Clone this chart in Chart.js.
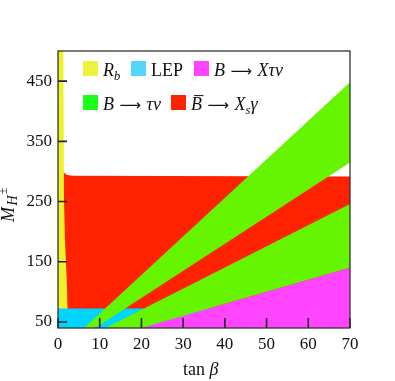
<!DOCTYPE html>
<html><head><meta charset="utf-8">
<script src="https://cdn.jsdelivr.net/npm/chart.js@4.4.1/dist/chart.umd.min.js"></script>
<style>html,body{margin:0;padding:0;background:#fff}canvas{display:block}</style>
</head><body>
<canvas id="c" width="395" height="381"></canvas>
<script>
// ---- axes ----
const xTicks = [0, 10, 20, 30, 40, 50, 60, 70];
const yTicks = [50, 150, 250, 350, 450];
const xRange = [0, 70];
const yRange = [40, 500];

// ---- excluded regions: boundary vertices (tan beta, M_H+-) ----
const rbTanB  = [0, 0, 1.27, 1.35, 1.44, 1.7, 2.09, 2.28, 2.5];
const rbMH    = [40, 500, 500, 400, 253, 180, 120, 75, 40];
const lepTanB = [0, 0, 70, 70];
const lepMH   = [40, 72.5, 72.5, 40];
const bsgTanB = [0, 0, 1.3, 1.6, 2.2, 3.5, 70, 70];
const bsgMH   = [40, 300, 300, 297, 294, 293, 291.5, 40];
const btnATanB = [6.25, 70, 70, 8.9];
const btnAMH   = [40, 448, 315, 40];
const btnBTanB = [11.4, 70, 70, 20];
const btnBMH   = [40, 246, 140, 40];
const bxtnTanB = [20, 70, 70];
const bxtnMH   = [40, 140, 40];

const regionColors = { rb: '#eef22a', lep: '#00d4ff', bxtn: '#ff44ff', btn: '#66f500', bsg: '#ff2200' };
const legendColors = ['#eef23c', '#55d6f8', '#ff44ff', '#1aff1a', '#ff2200'];
const legendLabels = ['R_b', 'LEP', 'B → Xτν', 'B → τν', 'B̄ → X_sγ'];
const ARROW = {t:'⟶', font:'"DejaVu Sans", sans-serif', size:15, pre:5.5, gap:5.5, dy:-0.5};
const legendSegs = [
  [{t:'R',it:1},{t:'b',it:1,sub:1}],
  [{t:'LEP'}],
  [{t:'B',it:1},ARROW,{t:'Xτν',it:1}],
  [{t:'B',it:1},ARROW,{t:'τν',it:1}],
  [{t:'B',it:1,bar:1},ARROW,{t:'X',it:1},{t:'s',it:1,sub:1},{t:'γ',it:1}]
];

const pts = (xs, ys) => xs.map((x, i) => ({x, y: ys[i]}));
const FONT = '"Liberation Serif", "DejaVu Serif", serif';

function region(label, xs, ys, color, order) {
  return { label, data: pts(xs, ys), backgroundColor: color, borderColor: color,
    borderWidth: 0, pointRadius: 0, fill: 'shape', showLine: true, tension: 0, order };
}

function drawRich(ctx, segs, x, y, size) {
  ctx.textBaseline = 'alphabetic';
  ctx.textAlign = 'left';
  for (const s of segs) {
    const fs = s.size ? s.size : (s.sub || s.sup) ? size * (s.scale || 0.7) : size;
    ctx.font = (s.it ? 'italic ' : '') + fs + 'px ' + (s.font || FONT);
    const dy = s.sub ? size * (s.dy || 0.22) : s.sup ? -size * 0.35 : (s.dy || 0);
    x += (s.pre || 0);
    ctx.fillText(s.t, x, y + dy);
    const w = ctx.measureText(s.t).width;
    if (s.bar) {
      ctx.save(); ctx.lineWidth = 1; ctx.strokeStyle = ctx.fillStyle;
      ctx.beginPath(); ctx.moveTo(x + 3, y - size * 0.8); ctx.lineTo(x + w + 1.5, y - size * 0.8); ctx.stroke();
      ctx.restore();
    }
    x += w + (s.gap || 0);
  }
}

const overlay = {
  id: 'overlay',
  afterDatasetsDraw(chart) {
    const {ctx, chartArea: a, scales: {x, y}} = chart;
    ctx.save();
    ctx.strokeStyle = '#222';
    ctx.lineWidth = 1.6;
    ctx.beginPath();
    for (const v of yTicks) { const p = y.getPixelForValue(v); ctx.moveTo(a.left, p); ctx.lineTo(a.left + 9, p); }
    for (const v of xTicks) { const p = x.getPixelForValue(v); ctx.moveTo(p, a.bottom); ctx.lineTo(p, a.bottom - 10); }
    ctx.stroke();
    ctx.lineWidth = 1.3;
    ctx.strokeStyle = '#333';
    ctx.strokeRect(a.left, a.top, a.right - a.left, a.bottom - a.top);
    ctx.restore();
  },
  afterDraw(chart) {
    const {ctx, chartArea: a} = chart;
    ctx.save();
    // legend
    const boxX = [a.left + 25, a.left + 73, a.left + 136, a.left + 25, a.left + 113];
    const rowY = [a.top + 10, a.top + 10, a.top + 10, a.top + 44, a.top + 44];
    for (let i = 0; i < legendSegs.length; i++) {
      ctx.fillStyle = legendColors[i];
      ctx.fillRect(boxX[i], rowY[i], 15, 15);
      ctx.fillStyle = '#111';
      drawRich(ctx, legendSegs[i], boxX[i] + 20, rowY[i] + 15, 18);
    }
    // x title
    ctx.fillStyle = '#111';
    drawRich(ctx, [{t:'tan '},{t:'β',it:1}], (a.left + a.right) / 2 - 21, 375, 18);
    // y title
    ctx.save();
    ctx.translate(13.5, 222);
    ctx.rotate(-Math.PI / 2);
    drawRich(ctx, [{t:'M',it:1,gap:1.5},{t:'H',it:1,sub:1,scale:0.78,dy:0.17,gap:1},{t:'±',sup:1,scale:0.65}], 0, 0, 18);
    ctx.restore();
    ctx.restore();
  }
};

new Chart(document.getElementById('c'), {
  type: 'line',
  data: {
    datasets: [
      region(legendLabels[2], bxtnTanB, bxtnMH, regionColors.bxtn, 1),
      region(legendLabels[3], btnATanB, btnAMH, regionColors.btn, 2),
      region(legendLabels[3], btnBTanB, btnBMH, regionColors.btn, 3),
      region(legendLabels[1], lepTanB, lepMH, regionColors.lep, 4),
      region(legendLabels[0], rbTanB, rbMH, regionColors.rb, 5),
      region(legendLabels[4], bsgTanB, bsgMH, regionColors.bsg, 6)
    ]
  },
  options: {
    responsive: false,
    animation: false,
    events: [],
    layout: { padding: { left: 0, right: 45, top: 51, bottom: 0 } },
    plugins: { legend: { display: false }, tooltip: { enabled: false } },
    scales: {
      x: {
        type: 'linear', min: xRange[0], max: xRange[1],
        afterBuildTicks: s => { s.ticks = xTicks.map(v => ({value: v})); },
        afterFit: s => { s.height = 53; },
        grid: { display: false, drawTicks: false, tickLength: 0 }, border: { display: false },
        ticks: { color: '#111', padding: 6, maxRotation: 0, font: { family: FONT, size: 17 } }
      },
      y: {
        type: 'linear', min: yRange[0], max: yRange[1],
        afterBuildTicks: s => { s.ticks = yTicks.map(v => ({value: v})); },
        afterFit: s => { s.width = 58; },
        grid: { display: false, drawTicks: false, tickLength: 0 }, border: { display: false },
        ticks: { color: '#111', padding: 6, font: { family: FONT, size: 17 } }
      }
    }
  },
  plugins: [overlay]
});
</script>
</body></html>
